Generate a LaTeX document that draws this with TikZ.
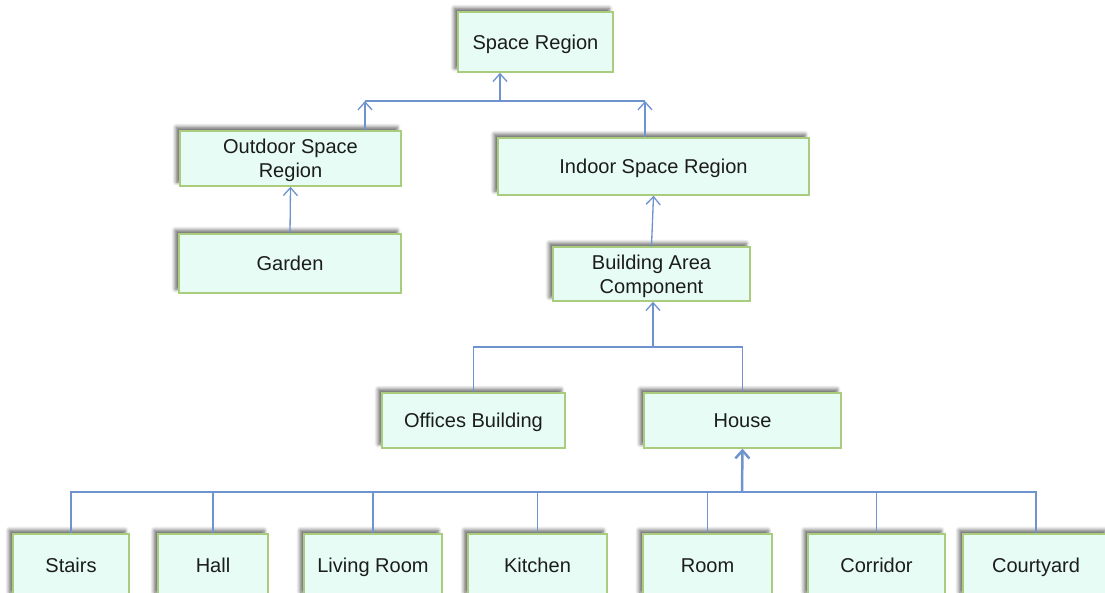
\documentclass[tikz,border=0pt]{standalone}
\usepackage{fontspec}
\setmainfont{Liberation Sans}
\usetikzlibrary{arrows.meta,shadows.blur}
\definecolor{boxfill}{HTML}{E6FCF5}
\definecolor{boxline}{HTML}{A9CD7D}
\definecolor{linkblue}{HTML}{6E93CF}
\definecolor{boxtext}{HTML}{1C1C1C}
\tikzset{
  box/.style={draw=boxline,fill=boxfill,line width=0.8pt,inner sep=0pt,
    align=center,text=boxtext,font=\fontsize{11.4}{13.6}\selectfont,
    text height=10.4pt,text depth=2.2pt,
    blur shadow={shadow xshift=-2.2pt,shadow yshift=2.2pt,shadow blur steps=6,shadow opacity=60}},
  twobox/.style={box,text height=24pt},
  link/.style={draw=linkblue,line width=0.75pt},
  arr/.style={link,-{Straight Barb[length=4.5pt,width=8pt]}},
}
\begin{document}
\begin{tikzpicture}[x=0.02cm,y=-0.02cm]
  \useasboundingbox (0,0) rectangle (1105,592);
  % upper part
  \node[box,minimum width=3.10cm,minimum height=1.20cm] (space) at (535.5,42) {Space Region};
  \node[twobox,minimum width=4.42cm,minimum height=1.10cm] (outdoor) at (290.5,158.5) {Outdoor Space\\Region};
  \node[box,minimum width=6.22cm,minimum height=1.14cm] (indoor) at (653.5,166.5) {Indoor Space Region};
  \node[box,minimum width=4.44cm,minimum height=1.18cm] (garden) at (290,263.5) {Garden};
  \node[twobox,minimum width=3.94cm,minimum height=1.08cm] (area) at (651.5,274) {Building Area\\Component};
  \node[box,minimum width=3.66cm,minimum height=1.10cm] (offices) at (473.5,420.5) {Offices Building};
  \node[box,minimum width=3.94cm,minimum height=1.10cm] (house) at (742.5,420.5) {House};
  % rooms of the house
  \node[box,minimum width=2.32cm,minimum height=1.24cm] (stairs) at (71,565) {Stairs};
  \node[box,minimum width=2.20cm,minimum height=1.24cm] (hall) at (213,565) {Hall};
  \node[box,minimum width=2.76cm,minimum height=1.24cm] (living) at (373,565) {Living Room};
  \node[box,minimum width=2.78cm,minimum height=1.24cm] (kitchen) at (537.5,565) {Kitchen};
  \node[box,minimum width=2.58cm,minimum height=1.24cm] (room) at (707.5,565) {Room};
  \node[box,minimum width=2.74cm,minimum height=1.24cm] (corridor) at (876.5,565) {Corridor};
  \node[box,minimum width=2.92cm,minimum height=1.24cm] (courtyard) at (1036,565) {Courtyard};

  % top level
  \coordinate (topL) at (365,101);
  \coordinate (topR) at (645,101);
  \coordinate (topM) at (500,101);
  \draw[link] (topL) -- (topR);
  \draw[arr] (topM) -- (space.south -| topM);
  \draw[arr] (outdoor.north -| topL) -- (topL);
  \draw[arr] (indoor.north -| topR) -- (topR);
  \draw[arr] (garden.north) -- (outdoor.south);
  \draw[arr] (area.north) -- (indoor.south);

  % buildings
  \coordinate (midM) at (653,347);
  \draw[link] (offices.north) |- (midM) -| (house.north);
  \draw[arr] (midM) -- (area.south -| midM);

  % rooms
  \coordinate (lowM) at (742,492);
  \draw[link] (stairs.north) |- (lowM) -| (courtyard.north);
  \foreach \r in {hall,living,kitchen,room,corridor}
    \draw[link] (\r.north) -- (\r.north |- lowM);
  \draw[link,line width=1pt] (hall.north |- lowM) -- (corridor.north |- lowM);
  \draw[arr,line width=1.4pt] (lowM) -- (house.south);
\end{tikzpicture}
\end{document}
